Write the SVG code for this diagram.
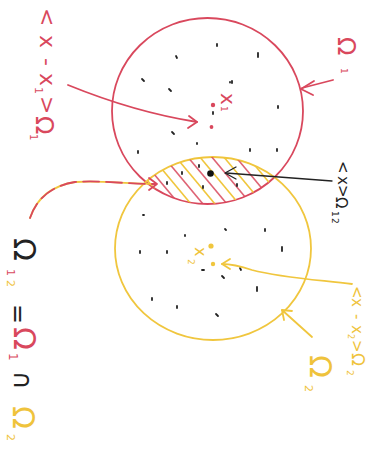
<svg xmlns="http://www.w3.org/2000/svg" width="371" height="454" viewBox="0 0 371 454">
<style>
.red{fill:none;stroke:#d9485d;stroke-width:1.8;stroke-linecap:round;stroke-linejoin:round}
.yel{fill:none;stroke:#f0c63e;stroke-width:1.8;stroke-linecap:round;stroke-linejoin:round}
.blk{fill:none;stroke:#222;stroke-width:1.3;stroke-linecap:round;stroke-linejoin:round}
.hr{stroke:#d9485d;stroke-width:1.6;opacity:0.85}
.hy{stroke:#f0c63e;stroke-width:1.6}
.sp{stroke:#222;stroke-width:1.8;stroke-linecap:round}
.t{font-family:"DejaVu Sans",sans-serif}
.tr{fill:#d9485d}.ty{fill:#efc33c}.tb{fill:#222}
</style>
<defs>
<clipPath id="c1"><ellipse cx="207.5" cy="111" rx="95.5" ry="93"/></clipPath>
<clipPath id="c2"><ellipse cx="213" cy="248.5" rx="98" ry="91.5"/></clipPath>
</defs>
<rect width="371" height="454" fill="#fff"/>

<g id="omega1">
<ellipse class="red" cx="207.5" cy="111" rx="95.5" ry="93"/>
</g>
<g id="omega2">
<ellipse class="yel" cx="213" cy="248.5" rx="98" ry="91.5"/>
</g>

<g id="overlap" clip-path="url(#c1)"><g clip-path="url(#c2)">
<line class="hr" x1="110" y1="150" x2="160" y2="210"/>
<line class="hy" x1="122" y1="150" x2="172" y2="210"/>
<line class="hr" x1="134" y1="150" x2="184" y2="210"/>
<line class="hy" x1="146" y1="150" x2="196" y2="210"/>
<line class="hr" x1="158" y1="150" x2="208" y2="210"/>
<line class="hy" x1="170" y1="150" x2="220" y2="210"/>
<line class="hr" x1="182" y1="150" x2="232" y2="210"/>
<line class="hy" x1="194" y1="150" x2="244" y2="210"/>
<line class="hr" x1="206" y1="150" x2="256" y2="210"/>
<line class="hy" x1="218" y1="150" x2="268" y2="210"/>
<line class="hr" x1="230" y1="150" x2="280" y2="210"/>
<line class="hy" x1="242" y1="150" x2="292" y2="210"/>
<line class="hr" x1="254" y1="150" x2="304" y2="210"/>
<line class="hy" x1="266" y1="150" x2="316" y2="210"/>
</g></g>

<g id="points">
<circle cx="210.5" cy="173.5" r="3.3" fill="#111"/>
<circle cx="213" cy="105" r="2.2" fill="#d9485d"/>
<circle cx="211.5" cy="127" r="1.9" fill="#d9485d"/>
<circle cx="211" cy="246" r="2.6" fill="#f0c63e"/>
<circle cx="213" cy="264" r="2.2" fill="#f0c63e"/>
<g id="specks">
<line class="sp" x1="176" y1="56" x2="177" y2="58"/>
<line class="sp" x1="142" y1="79" x2="144" y2="81"/>
<line class="sp" x1="169" y1="89" x2="171" y2="91"/>
<line class="sp" x1="172" y1="132" x2="174" y2="134"/>
<line class="sp" x1="138" y1="151" x2="138" y2="153"/>
<line class="sp" x1="167" y1="182" x2="167" y2="184"/>
<line class="sp" x1="143" y1="215" x2="144" y2="215"/>
<line class="sp" x1="217" y1="44" x2="217" y2="46"/>
<line class="sp" x1="258" y1="53" x2="258" y2="57"/>
<line class="sp" x1="232" y1="81" x2="232" y2="83"/>
<line class="sp" x1="278" y1="106" x2="278" y2="108"/>
<line class="sp" x1="213" y1="112" x2="213" y2="114"/>
<line class="sp" x1="197" y1="143" x2="197" y2="144"/>
<line class="sp" x1="250" y1="149" x2="250" y2="151"/>
<line class="sp" x1="277" y1="149" x2="277" y2="151"/>
<line class="sp" x1="199" y1="165" x2="199" y2="167"/>
<line class="sp" x1="182" y1="172" x2="182" y2="174"/>
<line class="sp" x1="203" y1="186" x2="203" y2="188"/>
<line class="sp" x1="237" y1="184" x2="237" y2="186"/>
<line class="sp" x1="230" y1="82" x2="230" y2="82.5"/>
<line class="sp" x1="185" y1="235" x2="185" y2="236"/>
<line class="sp" x1="225" y1="229" x2="226" y2="230"/>
<line class="sp" x1="265" y1="229" x2="265" y2="231"/>
<line class="sp" x1="282" y1="247" x2="282" y2="251"/>
<line class="sp" x1="140" y1="251" x2="140" y2="253"/>
<line class="sp" x1="167" y1="251" x2="167" y2="253"/>
<line class="sp" x1="202" y1="270" x2="204" y2="270"/>
<line class="sp" x1="222" y1="276" x2="224" y2="278"/>
<line class="sp" x1="240" y1="268" x2="241" y2="270"/>
<line class="sp" x1="257" y1="287" x2="257" y2="291"/>
<line class="sp" x1="152" y1="298" x2="152" y2="300"/>
<line class="sp" x1="177" y1="306" x2="177" y2="308"/>
<line class="sp" x1="216" y1="314" x2="218" y2="316"/>
</g>
</g>

<g id="connectors">
<path class="red" d="M68,85 C95,96 140,113 197,122"/>
<path class="red" d="M189,116 L197,122 L188,128"/>
<path class="red" d="M333,80 L302,88"/>
<path class="red" d="M314,81 L301,89 L313,95"/>
<path class="blk" d="M332,181 L226,173"/>
<path class="blk" d="M236,167 L225,173 L236,179"/>
<path class="yel" d="M352,284 C320,280 282,278 252,270 C240,266 232,264 222,264"/>
<path class="yel" d="M230,259 L222,264 L230,269"/>
<path class="yel" d="M312,337 L282,310"/>
<path class="yel" d="M292,311 L282,310 L284,320"/>
<path class="yel" d="M30,218 C36,200 50,186 75,182 C100,180 125,184 156,184"/>
<path class="red" d="M30,218 C36,200 50,186 75,182 C100,180 125,184 156,184" stroke-dasharray="16 7"/>
<path class="red" d="M149,178 L157,184 L149,190"/>
</g>

<g id="label-x1">
<text class="t" transform="rotate(90)"><tspan class="tr" x="93" y="-221" font-size="20">x</tspan><tspan class="tr" x="106" y="-221" font-size="9">1</tspan></text>
</g>
<g id="label-x2">
<text class="t" transform="rotate(90)"><tspan class="ty" x="247" y="-195" font-size="16">x</tspan><tspan class="ty" x="259" y="-188" font-size="9">2</tspan></text>
</g>
<g id="label-dist1">
<text class="t tr" transform="rotate(90)" font-size="22"><tspan x="8" y="-40">&lt;</tspan><tspan x="35" y="-40">x</tspan><tspan x="58" y="-40">-</tspan><tspan x="73" y="-40">x</tspan><tspan x="87" y="-35" font-size="11">1</tspan><tspan x="96" y="-40">&gt;</tspan><tspan x="116" y="-36" font-size="24">Ω</tspan><tspan x="134" y="-30" font-size="10">1</tspan></text>
</g>
<g id="label-omega1">
<text class="t tr" transform="rotate(90)"><tspan x="37" y="-338" font-size="24">Ω</tspan><tspan x="68" y="-341" font-size="9">1</tspan></text>
</g>
<g id="label-mean12">
<text class="t tb" transform="rotate(90)" font-size="15"><tspan x="161" y="-338">&lt;</tspan><tspan x="176" y="-338">x</tspan><tspan x="185" y="-338">&gt;</tspan><tspan x="197" y="-336">Ω</tspan><tspan x="211" y="-332" font-size="9">1</tspan><tspan x="218" y="-332" font-size="9">2</tspan></text>
</g>
<g id="label-dist2">
<text class="t ty" transform="rotate(90)" font-size="15"><tspan x="286" y="-352">&lt;</tspan><tspan x="298" y="-352">x</tspan><tspan x="314" y="-352">-</tspan><tspan x="325" y="-352">x</tspan><tspan x="334" y="-348" font-size="8">2</tspan><tspan x="340" y="-352">&gt;</tspan><tspan x="353" y="-352" font-size="17">Ω</tspan><tspan x="370" y="-347" font-size="9">2</tspan></text>
</g>
<g id="label-omega2">
<text class="t ty" transform="rotate(90)"><tspan x="355" y="-310" font-size="30">Ω</tspan><tspan x="385" y="-305" font-size="11">2</tspan></text>
</g>
<g id="label-formula">
<text class="t" transform="rotate(90)"><tspan class="tb" x="238" y="-14" font-size="30">Ω</tspan><tspan class="tr" x="269" y="-7" font-size="11">1</tspan><tspan class="ty" x="280" y="-7" font-size="11">2</tspan><tspan class="tb" x="304" y="-10" font-size="24">=</tspan><tspan class="tr" x="327" y="-14" font-size="30">Ω</tspan><tspan class="tr" x="353" y="-9" font-size="12">1</tspan><tspan class="tb" x="371" y="-14" font-size="26">∩</tspan><tspan class="ty" x="406" y="-13" font-size="30">Ω</tspan><tspan class="ty" x="434" y="-7" font-size="11">2</tspan></text>
</g>
</svg>
